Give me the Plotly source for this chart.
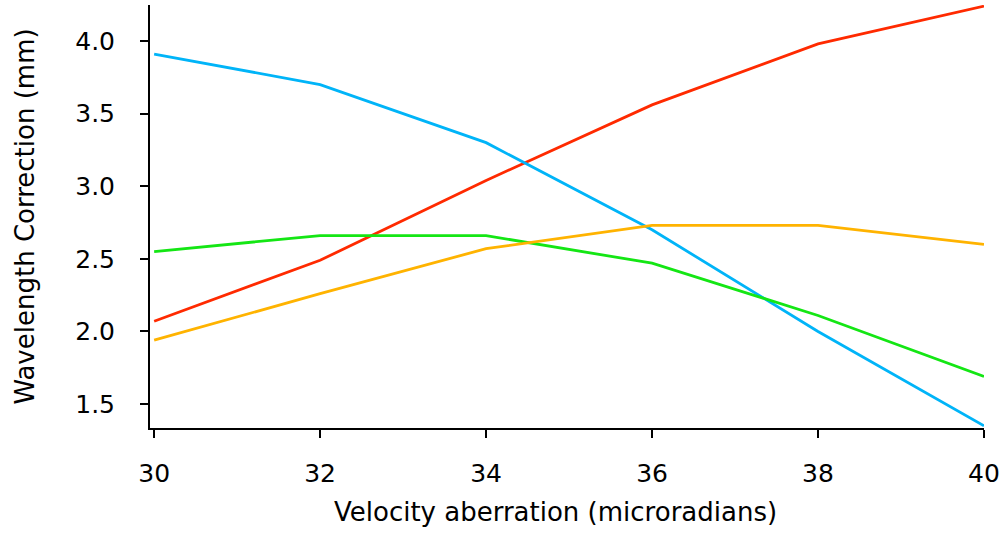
import plotly.graph_objects as go

velocity = [30, 32, 34, 36, 38, 40]
red_vals = [2.07, 2.49, 3.04, 3.56, 3.98, 4.24]
blue_vals = [3.91, 3.70, 3.30, 2.70, 2.00, 1.35]
green_vals = [2.55, 2.66, 2.66, 2.47, 2.11, 1.69]
orange_vals = [1.94, 2.26, 2.57, 2.73, 2.73, 2.60]

x_title = "Velocity aberration (microradians)"
y_title = "Wavelength Correction (mm)"

series = [
    ("red", red_vals, "#ff2a00"),
    ("blue", blue_vals, "#00b4f8"),
    ("green", green_vals, "#14e614"),
    ("orange", orange_vals, "#ffb300"),
]

fig = go.Figure()
for name, vals, color in series:
    fig.add_trace(go.Scatter(x=velocity, y=vals, mode="lines", name=name,
                             line=dict(color=color, width=2.8)))

family = "DejaVu Sans, Verdana, sans-serif"
fig.update_layout(
    width=1004, height=534,
    margin=dict(l=150, r=20, t=5, b=106),
    paper_bgcolor="white", plot_bgcolor="white",
    showlegend=False,
    font=dict(family=family, size=26, color="black"),
)
fig.add_annotation(text=x_title, xref="paper", yref="paper",
                   x=(555 - 150) / 834, y=-(512 - 428) / 423,
                   xanchor="center", yanchor="middle", showarrow=False,
                   font=dict(family=family, size=26, color="black"))
fig.update_xaxes(range=[29.95, 40], tickvals=[30, 32, 34, 36, 38, 40],
                 tickfont=dict(family=family, size=25, color="black"),
                 ticklabelstandoff=14,
                 showgrid=False, zeroline=False, showline=True, linecolor="black", linewidth=2,
                 ticks="outside", ticklen=8, tickwidth=2, tickcolor="black")
fig.update_yaxes(range=[1.335, 4.248], tickvals=[1.5, 2.0, 2.5, 3.0, 3.5, 4.0],
                 tickformat=".1f",
                 tickfont=dict(family=family, size=25, color="black"),
                 ticklabelstandoff=20,
                 showgrid=False, zeroline=False, showline=True, linecolor="black", linewidth=2,
                 ticks="outside", ticklen=8, tickwidth=2, tickcolor="black",
                 title=dict(text=y_title, standoff=33,
                            font=dict(family=family, size=26, color="black")))
fig.write_html("out.html", config={"displayModeBar": False},
               post_script="document.body.style.margin='0';")
